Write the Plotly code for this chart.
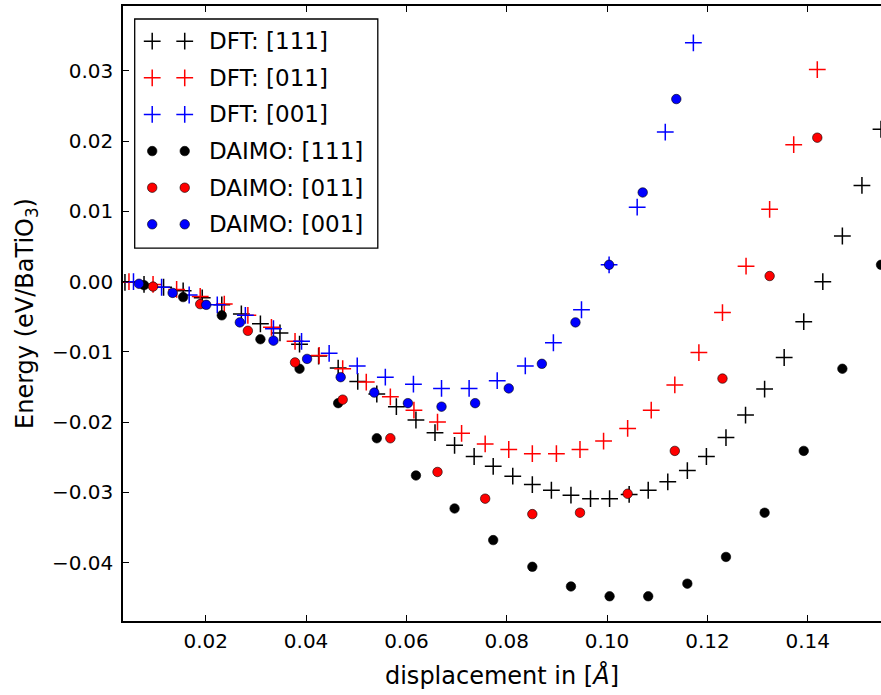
import plotly.graph_objects as go

# ---------------- data ----------------
dft_111_x = [0.0039, 0.0077, 0.0116, 0.0155, 0.0193, 0.0232, 0.0271, 0.0309, 0.0348, 0.0387,
             0.0425, 0.0464, 0.0503, 0.0541, 0.0580, 0.0619, 0.0657, 0.0696, 0.0735, 0.0773,
             0.0812, 0.0851, 0.0889, 0.0928, 0.0967, 0.1005, 0.1044, 0.1082, 0.1121, 0.1160,
             0.1198, 0.1237, 0.1276, 0.1314, 0.1353, 0.1392, 0.1430, 0.1469, 0.1508, 0.1546]
dft_111_e = [-0.0001, -0.0004, -0.0008, -0.0013, -0.0023, -0.0033, -0.0046, -0.0060, -0.0073, -0.0089,
             -0.0106, -0.0123, -0.0142, -0.0160, -0.0178, -0.0197, -0.0215, -0.0233, -0.0249, -0.0263,
             -0.0277, -0.0289, -0.0297, -0.0304, -0.0309, -0.0309, -0.0303, -0.0297, -0.0285, -0.0269,
             -0.0249, -0.0222, -0.0190, -0.0153, -0.0108, -0.0057, 0.0000, 0.0065, 0.0137, 0.0217]

dft_011_x = [0.0047, 0.0095, 0.0142, 0.0189, 0.0237, 0.0284, 0.0331, 0.0378, 0.0426, 0.0473,
             0.0520, 0.0568, 0.0615, 0.0662, 0.0710, 0.0757, 0.0804, 0.0851, 0.0899, 0.0946,
             0.0993, 0.1041, 0.1088, 0.1135, 0.1183, 0.1230, 0.1277, 0.1324, 0.1372, 0.1419]
dft_011_e = [0.0000, -0.0004, -0.0011, -0.0021, -0.0032, -0.0048, -0.0065, -0.0085, -0.0105, -0.0124,
             -0.0143, -0.0164, -0.0183, -0.0200, -0.0216, -0.0231, -0.0239, -0.0245, -0.0245, -0.0239,
             -0.0227, -0.0209, -0.0183, -0.0147, -0.0101, -0.0044, 0.0022, 0.0103, 0.0195, 0.0302]

dft_001_x = [0.0056, 0.0112, 0.0167, 0.0223, 0.0279, 0.0335, 0.0391, 0.0446, 0.0502, 0.0558,
             0.0614, 0.0670, 0.0725, 0.0781, 0.0837, 0.0893, 0.0949, 0.1004, 0.1060, 0.1116, 0.1172]
dft_001_e = [0.0000, -0.0008, -0.0019, -0.0033, -0.0048, -0.0067, -0.0085, -0.0102, -0.0120, -0.0136,
             -0.0146, -0.0152, -0.0152, -0.0141, -0.0120, -0.0087, -0.0040, 0.0024, 0.0106, 0.0213, 0.0340]

daimo_111_x = [0.0077, 0.0155, 0.0232, 0.0309, 0.0387, 0.0464, 0.0541, 0.0619, 0.0696, 0.0773,
               0.0851, 0.0928, 0.1005, 0.1082, 0.1160, 0.1237, 0.1314, 0.1392, 0.1469, 0.1546]
daimo_111_e = [-0.0005, -0.0022, -0.0048, -0.0082, -0.0124, -0.0173, -0.0223, -0.0276, -0.0323, -0.0368,
               -0.0406, -0.0434, -0.0448, -0.0448, -0.0430, -0.0392, -0.0329, -0.0241, -0.0124, 0.0024]

daimo_011_x = [0.0095, 0.0189, 0.0284, 0.0378, 0.0473, 0.0568, 0.0662, 0.0757, 0.0851, 0.0946,
               0.1041, 0.1135, 0.1230, 0.1324, 0.1419]
daimo_011_e = [-0.0007, -0.0032, -0.0070, -0.0115, -0.0168, -0.0223, -0.0271, -0.0309, -0.0331, -0.0329,
               -0.0302, -0.0241, -0.0138, 0.0008, 0.0205]

daimo_001_x = [0.0067, 0.0134, 0.0201, 0.0268, 0.0335, 0.0402, 0.0469, 0.0536, 0.0603, 0.0670,
               0.0737, 0.0804, 0.0870, 0.0937, 0.1004, 0.1071, 0.1138]
daimo_001_e = [-0.0003, -0.0016, -0.0033, -0.0058, -0.0084, -0.0110, -0.0136, -0.0158, -0.0173, -0.0178,
               -0.0173, -0.0152, -0.0117, -0.0058, 0.0024, 0.0127, 0.0260]

series_names = ["DFT: [111]", "DFT: [011]", "DFT: [001]",
                "DAIMO: [111]", "DAIMO: [011]", "DAIMO: [001]"]
x_tick_vals = [0.02, 0.04, 0.06, 0.08, 0.10, 0.12, 0.14]
y_tick_vals = [-0.04, -0.03, -0.02, -0.01, 0.00, 0.01, 0.02, 0.03]

# ---------------- styling ----------------
FONT = "DejaVu Sans"
W, H = 881, 695
ML, MR, MT, MB = 123, 0, 6, 74
colors = ["#000000", "#ff0000", "#0000ff"]

def cross_marker(c):
    return dict(symbol="cross-thin", size=12, color=c, line=dict(color=c, width=1.5))

def dot_marker(c):
    return dict(symbol="circle", size=9.5, color=c, line=dict(color="#000000", width=0.6))

fig = go.Figure()
data_sets = [
    (dft_111_x, dft_111_e, cross_marker(colors[0])),
    (dft_011_x, dft_011_e, cross_marker(colors[1])),
    (dft_001_x, dft_001_e, cross_marker(colors[2])),
    (daimo_111_x, daimo_111_e, dot_marker(colors[0])),
    (daimo_011_x, daimo_011_e, dot_marker(colors[1])),
    (daimo_001_x, daimo_001_e, dot_marker(colors[2])),
]
for (xs, ys, mk), name in zip(data_sets, series_names):
    fig.add_trace(go.Scatter(x=xs, y=ys, mode="markers", name=name, marker=mk,
                             showlegend=False, xaxis="x", yaxis="y"))

# ---------------- custom legend (matplotlib-like, two sample markers) ----------------
# overlay axes in pixel units of the plot area
PX_L, PX_R = 123.3, 881.0
PX_B, PX_T = 620.7, 6.0
LEG_BOX = (135, 19, 378, 248)
LEG_MX = [152.5, 185.0]
LEG_TX = 207
LEG_ROW0, LEG_DY = 41.2, 36.6

for i, ((_, _, mk), name) in enumerate(zip(data_sets, series_names)):
    ry = LEG_ROW0 + i * LEG_DY
    fig.add_trace(go.Scatter(x=LEG_MX, y=[ry, ry], mode="markers", marker=mk,
                             showlegend=False, hoverinfo="skip", xaxis="x2", yaxis="y2"))
    fig.add_annotation(x=LEG_TX, y=ry, xref="x2", yref="y2", text=name, showarrow=False,
                       xanchor="left", yanchor="middle",
                       font=dict(family=FONT, size=23, color="#000000"))

fig.add_shape(type="rect", xref="x2", yref="y2",
              x0=LEG_BOX[0], y0=LEG_BOX[1], x1=LEG_BOX[2], y1=LEG_BOX[3],
              line=dict(color="#000000", width=1.3), fillcolor="white", layer="below")

axis_common = dict(showgrid=False, zeroline=False, showline=True, linecolor="#000000",
                   linewidth=1.5, ticks="inside", ticklen=6, tickwidth=1, tickcolor="#000000",
                   tickfont=dict(family=FONT, size=20, color="#000000"))

fig.update_layout(
    width=W, height=H,
    margin=dict(l=ML, r=MR, t=MT, b=MB, pad=0),
    paper_bgcolor="white", plot_bgcolor="white",
    font=dict(family=FONT, color="#000000"),
    xaxis=dict(range=[0.00351, 0.1546], tickvals=x_tick_vals, tickformat=".2f",
               mirror="ticks", ticklabelstandoff=1,
               title=dict(text="displacement in [<i>Å</i>]", standoff=15,
                          font=dict(family=FONT, size=24)),
               **axis_common),
    yaxis=dict(range=[-0.04832, 0.03925], tickvals=y_tick_vals, tickformat=".2f",
               ticklabelstandoff=4,
               title=dict(text="Energy (eV/BaTiO<sub>3</sub>)", standoff=12,
                          font=dict(family=FONT, size=24)),
               **axis_common),
    xaxis2=dict(range=[PX_L, PX_R], overlaying="x", visible=False, fixedrange=True),
    yaxis2=dict(range=[PX_B, PX_T], overlaying="y", visible=False, fixedrange=True),
)

fig.write_html("out.html", config={"displayModeBar": False},
               post_script="document.body.style.margin='0';")
